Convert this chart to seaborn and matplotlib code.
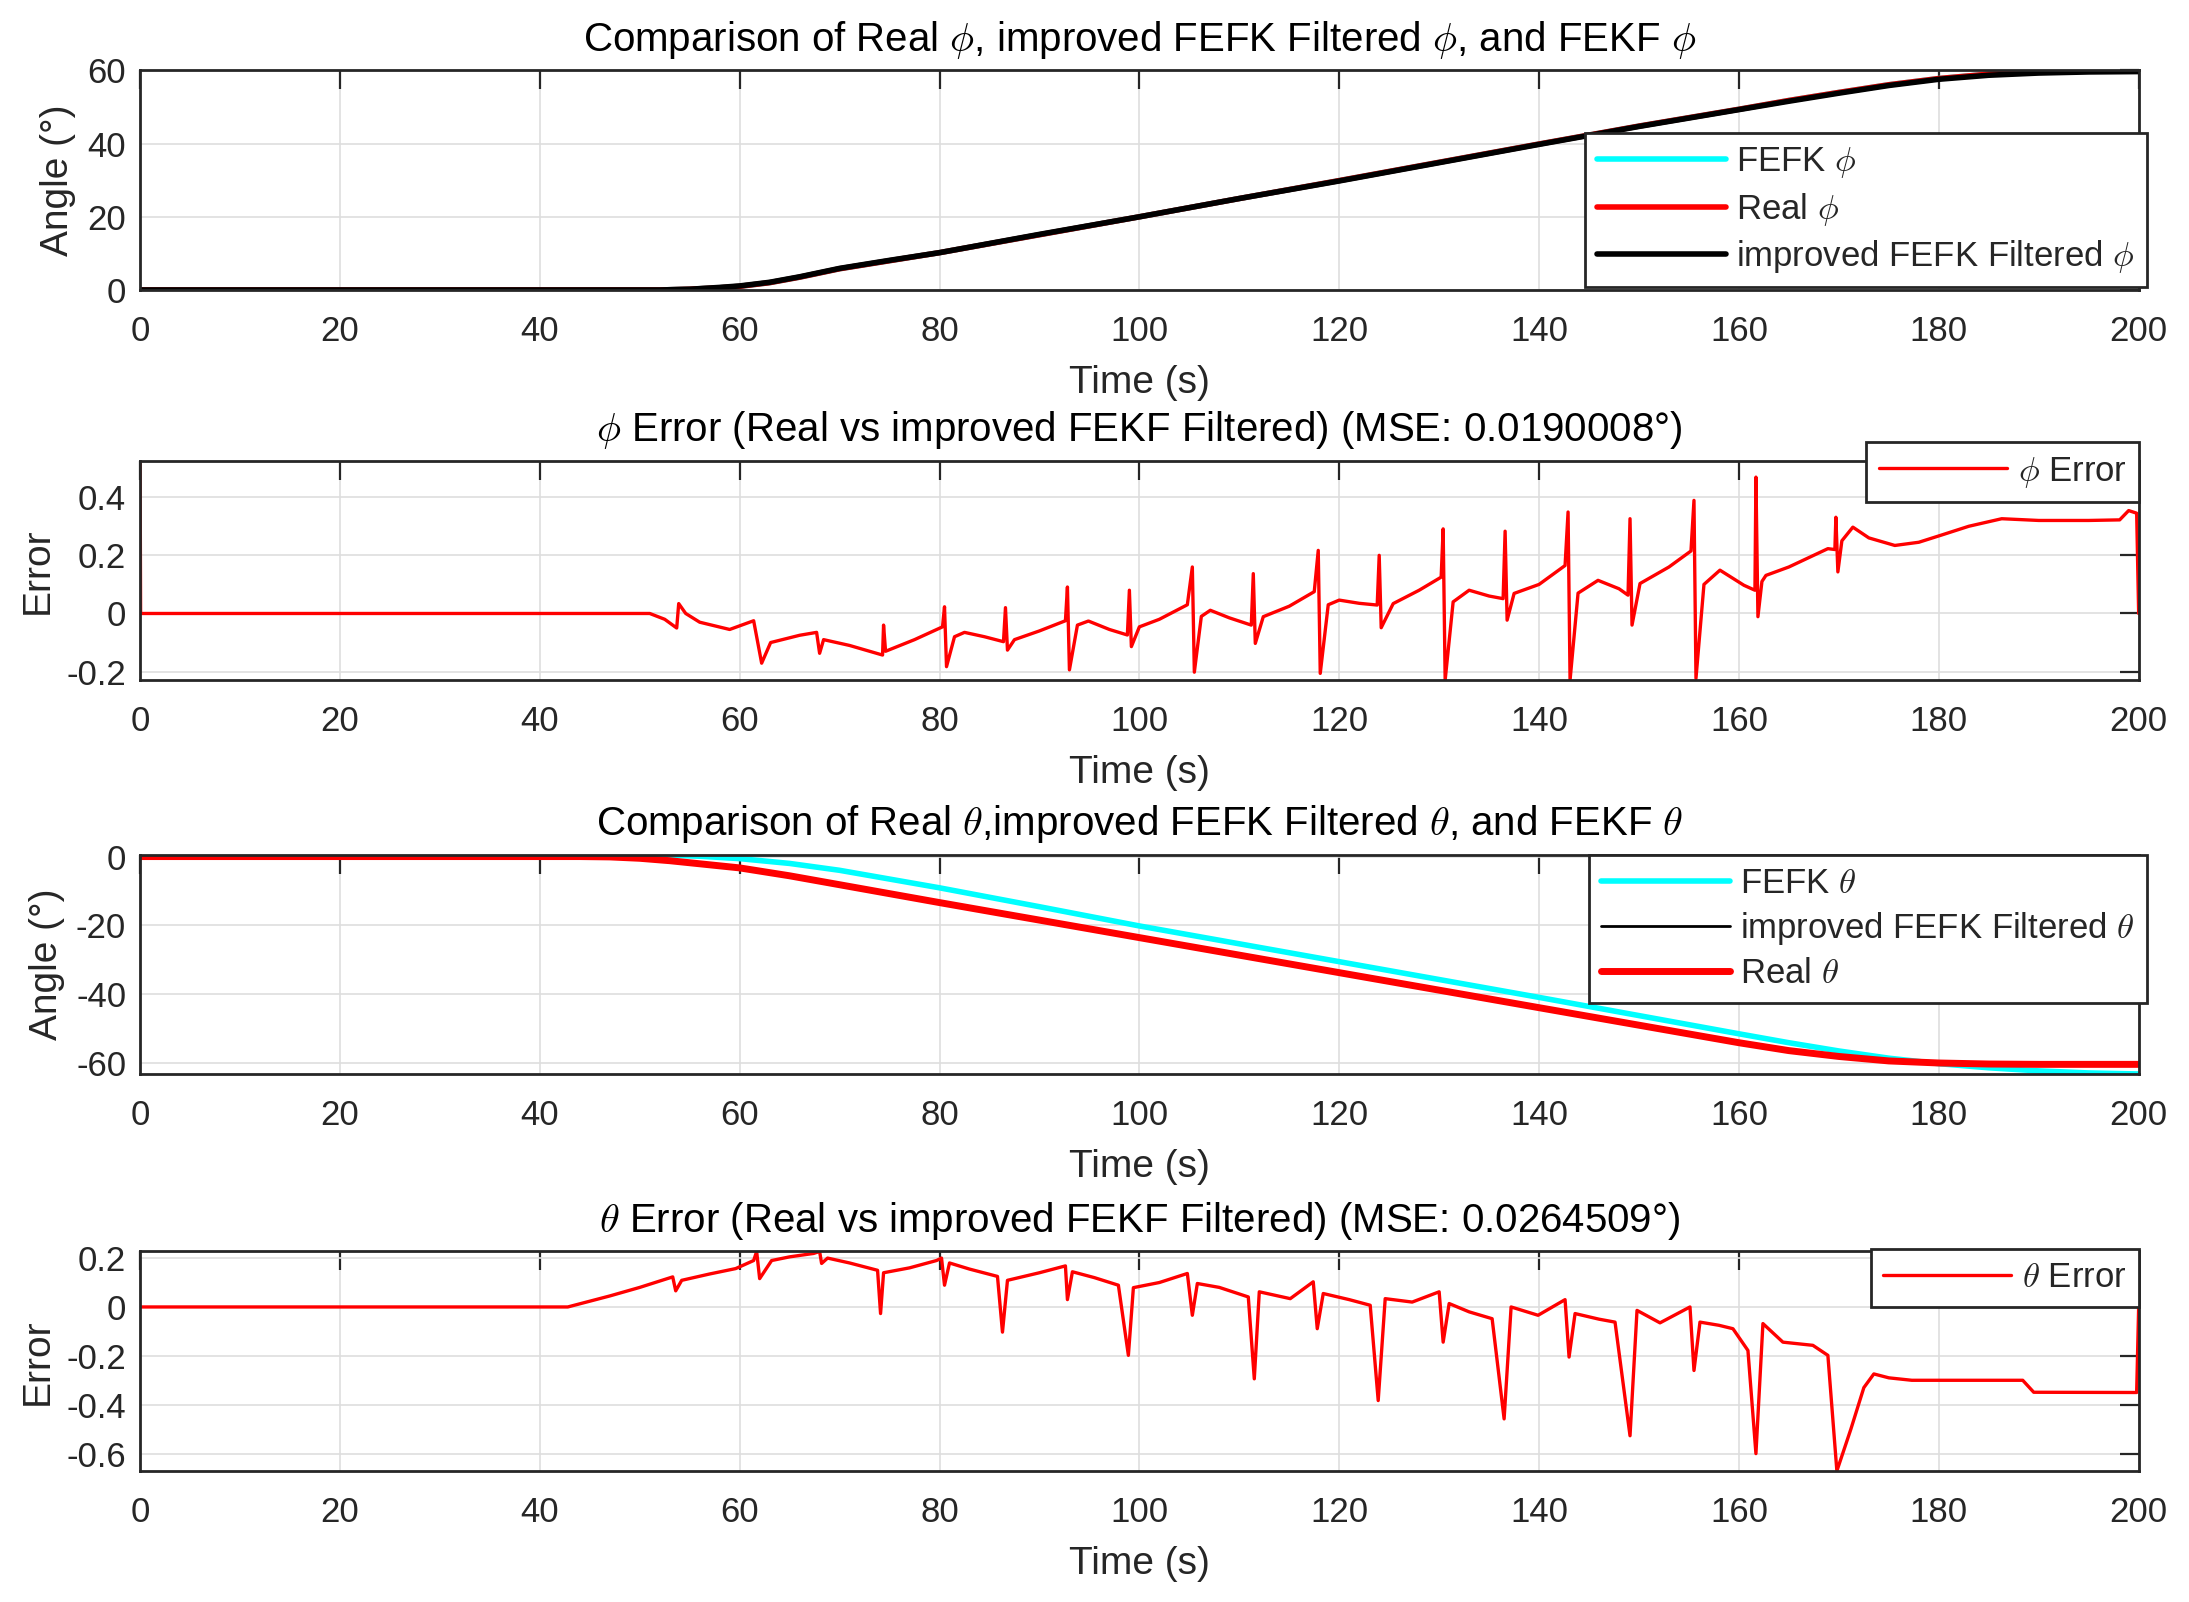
import matplotlib
matplotlib.use('Agg')
import matplotlib.pyplot as plt
import seaborn as sns

# ---- values ----
x_ticks = [0, 20, 40, 60, 80, 100, 120, 140, 160, 180, 200]

# panel 1: roll angle phi
t_phi = [0, 52, 55, 58, 60, 63, 66, 70, 75, 80, 90, 100, 110, 120, 130, 140,
         150, 160, 165, 170, 175, 180, 185, 190, 195, 200]
phi_fefk = [0, 0, 0.2, 0.6, 1.0, 2.0, 3.5, 5.8, 8.0, 10.2, 15.1, 20.0, 25.0, 29.9,
            34.9, 39.9, 44.8, 49.4, 51.8, 54.0, 56.1, 57.8, 59.0, 59.6, 59.9, 60.0]
phi_real = [0, 0, 0.2, 0.6, 1.0, 2.0, 3.5, 5.8, 8.0, 10.2, 15.1, 20.0, 25.0, 29.9,
            34.9, 39.9, 44.8, 49.4, 51.8, 54.0, 56.1, 57.8, 59.0, 59.6, 59.9, 60.0]
phi_improved = [0, 0, 0.2, 0.7, 1.1, 2.1, 3.6, 5.9, 8.1, 10.2, 15.2, 20.0, 25.0, 29.8,
                34.8, 39.8, 44.7, 49.3, 51.6, 53.8, 55.9, 57.6, 58.7, 59.3, 59.6, 59.7]
phi_yticks = [0, 20, 40, 60]

# panel 2: phi error
t_err_phi = [0, 0.05, 51, 52.5, 53.7, 53.9, 54.6, 56, 59, 61.4, 62.2, 63.1, 66, 67.7,
             68.0, 68.4, 71, 74.3, 74.4, 74.6, 77.5, 80.3, 80.5, 80.7, 81.5, 82.5,
             84.5, 86.4, 86.6, 86.8, 87.5, 90, 92.6, 92.8, 93.0, 93.8, 94.9, 97, 98.8,
             99.0, 99.2, 100, 102, 104.8, 105.3, 105.5, 106.2, 107.1, 109, 111.2,
             111.4, 111.6, 112.4, 115, 117.5, 117.9, 118.1, 118.9, 120, 122, 123.8,
             124.0, 124.2, 125.4, 128, 130.2, 130.4, 130.6, 131.4, 133, 135, 136.4,
             136.6, 136.8, 137.5, 140, 142.6, 142.9, 143.1, 143.9, 145.9, 148, 148.9,
             149.1, 149.3, 150.1, 153, 155.2, 155.5, 155.7, 156.5, 158.1, 160.5,
             161.6, 161.7, 161.9, 162.3, 162.7, 165, 168.9, 169.6, 169.7, 169.9,
             170.3, 171.4, 173, 175.6, 178, 180.2, 183, 186.3, 190, 195, 198.1,
             199.0, 199.8, 200]
err_phi = [0.526, 0, 0, -0.02, -0.05, 0.034, 0.0, -0.03, -0.055, -0.025, -0.171,
           -0.10, -0.075, -0.065, -0.137, -0.09, -0.11, -0.143, -0.04, -0.13, -0.09,
           -0.046, 0.023, -0.183, -0.08, -0.065, -0.08, -0.097, 0.02, -0.126, -0.09,
           -0.06, -0.025, 0.091, -0.194, -0.04, -0.026, -0.055, -0.074, 0.08,
           -0.114, -0.046, -0.02, 0.03, 0.16, -0.202, -0.01, 0.011, -0.015, -0.04,
           0.137, -0.103, -0.011, 0.025, 0.075, 0.217, -0.206, 0.03, 0.046, 0.035,
           0.029, 0.2, -0.049, 0.034, 0.08, 0.125, 0.291, -0.229, 0.04, 0.08, 0.06,
           0.051, 0.283, -0.023, 0.069, 0.1, 0.165, 0.349, -0.229, 0.07, 0.114,
           0.085, 0.063, 0.326, -0.04, 0.103, 0.16, 0.215, 0.389, -0.223, 0.10,
           0.149, 0.097, 0.08, 0.469, -0.011, 0.11, 0.131, 0.16, 0.223, 0.22, 0.331,
           0.143, 0.25, 0.297, 0.26, 0.234, 0.245, 0.269, 0.3, 0.326, 0.32, 0.32,
           0.322, 0.354, 0.345, 0.0]
err_phi_yticks = [-0.2, 0, 0.2, 0.4]
err_phi_ylabels = ['-0.2', '0', '0.2', '0.4']

# panel 3: pitch angle theta
t_theta = [0, 44, 47, 50, 53, 56, 60, 65, 70, 80, 90, 100, 110, 120, 130, 140,
           150, 160, 165, 170, 175, 180, 185, 190, 195, 200]
theta_fefk = [0, 0, 0.4, 0.5, 0.4, 0.1, -0.6, -2.0, -4.0, -9.1, -14.6, -20.2, -25.4,
              -30.6, -35.8, -41.0, -46.3, -51.6, -54.2, -56.6, -58.7, -60.3, -61.5,
              -62.4, -63.0, -63.3]
theta_improved = [0, 0, -0.1, -0.5, -1.2, -2.1, -3.3, -5.7, -8.3, -13.5, -18.6,
                  -23.7, -28.8, -33.8, -38.9, -44.0, -49.0, -54.0, -56.3, -58.0,
                  -59.3, -59.8, -60.1, -60.2, -60.2, -60.2]
theta_real = [0, 0, -0.1, -0.5, -1.2, -2.1, -3.3, -5.6, -8.2, -13.4, -18.5, -23.6,
              -28.7, -33.8, -38.9, -44.0, -49.1, -54.2, -56.5, -58.2, -59.5, -60.1,
              -60.4, -60.5, -60.5, -60.5]
theta_yticks = [-60, -40, -20, 0]

# panel 4: theta error
t_err_theta = [0, 42.8, 47, 50, 53.3, 53.6, 54.2, 57, 59.6, 61.4, 61.7, 62.0, 63.2,
               65, 67.4, 68.0, 68.2, 68.8, 71, 73.8, 74.1, 74.4, 77, 79.7, 80.2,
               80.5, 81.0, 83, 85.8, 86.3, 86.8, 90, 92.6, 92.8, 93.3, 95.5, 97.9,
               98.9, 99.4, 102, 104.8, 105.3, 105.8, 108, 110.9, 111.5, 112.0, 115.1,
               117.4, 117.8, 118.4, 121, 123.1, 123.9, 124.6, 127.3, 130.0, 130.4,
               131.0, 133, 135.3, 136.5, 137.2, 139.9, 142.6, 143.0, 143.6, 146,
               147.6, 149.1, 149.8, 152.1, 155.1, 155.5, 156.1, 158, 159.4, 160.9,
               161.7, 162.4, 164.4, 167.4, 168.9, 169.8, 171.2, 172.5, 173.5, 175,
               177.3, 188.4, 189.5, 199.8, 200]
err_theta = [0, 0, 0.045, 0.08, 0.123, 0.066, 0.109, 0.135, 0.157, 0.19, 0.227,
             0.116, 0.19, 0.205, 0.219, 0.227, 0.178, 0.2, 0.18, 0.15, -0.027, 0.14,
             0.16, 0.19, 0.2, 0.089, 0.18, 0.155, 0.125, -0.103, 0.109, 0.14, 0.168,
             0.03, 0.144, 0.12, 0.089, -0.198, 0.079, 0.1, 0.137, -0.034, 0.096,
             0.08, 0.041, -0.294, 0.062, 0.034, 0.103, -0.089, 0.055, 0.03, 0.007,
             -0.383, 0.034, 0.02, 0.062, -0.144, 0.014, -0.02, -0.048, -0.458, 0.0,
             -0.034, 0.03, -0.205, -0.027, -0.05, -0.062, -0.527, -0.014, -0.065,
             0.0, -0.26, -0.062, -0.075, -0.089, -0.178, -0.6, -0.068, -0.144,
             -0.157, -0.198, -0.671, -0.5, -0.33, -0.274, -0.29, -0.3, -0.3, -0.349,
             -0.35, 0.0]
err_theta_yticks = [-0.6, -0.4, -0.2, 0, 0.2]
err_theta_ylabels = ['-0.6', '-0.4', '-0.2', '0', '0.2']

# ---- style ----
sns.set_theme(style='white')
plt.rcParams['font.family'] = ['Liberation Sans', 'DejaVu Sans']
plt.rcParams['mathtext.fontset'] = 'cm'

DARK = '#262626'
fig = plt.figure(figsize=(2189 / 200, 1602 / 200), dpi=200)
left, width, height = 0.064, 0.913, 0.137
bottoms = [0.819, 0.5755, 0.3296, 0.0818]
axes = [fig.add_axes([left, b, width, height]) for b in bottoms]


def matlab_axes(ax, yticks, ylabels, ylabel, title, ylim):
    ax.set_xlim(0, 200)
    ax.set_ylim(*ylim)
    ax.set_xticks(x_ticks)
    ax.set_yticks(yticks)
    ax.set_yticklabels(ylabels)
    ax.grid(True, color='#dedede', lw=0.6)
    ax.set_axisbelow(True)
    ax.tick_params(direction='in', length=7, width=0.8, top=True, right=True,
                   colors=DARK, labelsize=12.5)
    ax.tick_params(axis='x', pad=9)
    ax.tick_params(axis='y', pad=5)
    for s in ax.spines.values():
        s.set_visible(True)
        s.set_color(DARK)
        s.set_linewidth(1.0)
    ax.set_xlabel('Time (s)', fontsize=14, labelpad=6, color=DARK)
    ax.set_ylabel(ylabel, fontsize=14, labelpad=4, color=DARK)
    ax.set_title(title, fontsize=14.5, pad=7, color='black')


def matlab_legend(ax, **kw):
    h, l = ax.get_legend_handles_labels()
    leg = ax.legend(h, l, fancybox=False, framealpha=1, edgecolor=DARK,
                    fontsize=12.5, handlelength=3.7, handletextpad=0.3,
                    labelspacing=0.3, borderpad=0.35, borderaxespad=0, **kw)
    leg.get_frame().set_linewidth(1.0)


# panel 1
ax = axes[0]
sns.lineplot(x=t_phi, y=phi_fefk, ax=ax, color='#00ffff', lw=2.0, label=r'FEFK $\phi$')
sns.lineplot(x=t_phi, y=phi_real, ax=ax, color='#ff0000', lw=2.0, label=r'Real $\phi$')
sns.lineplot(x=t_phi, y=phi_improved, ax=ax, color='black', lw=2.0,
             label=r'improved FEFK Filtered $\phi$')
matlab_axes(ax, phi_yticks, [str(v) for v in phi_yticks], 'Angle (°)',
            r'Comparison of Real $\phi$, improved FEFK Filtered $\phi$, and FEKF $\phi$',
            (0, 60))
matlab_legend(ax, loc='lower right', bbox_to_anchor=(1.004, 0.012))

# panel 2
ax = axes[1]
sns.lineplot(x=t_err_phi, y=err_phi, ax=ax, color='#ff0000', lw=1.2, label=r'$\phi$ Error')
matlab_axes(ax, err_phi_yticks, err_phi_ylabels, 'Error',
            r'$\phi$ Error (Real vs improved FEKF Filtered) (MSE: 0.0190008°)',
            (min(err_phi), max(err_phi)))
matlab_legend(ax, loc='upper right', bbox_to_anchor=(1.0, 1.083))

# panel 3
ax = axes[2]
sns.lineplot(x=t_theta, y=theta_fefk, ax=ax, color='#00ffff', lw=2.0, label=r'FEFK $\theta$')
sns.lineplot(x=t_theta, y=theta_improved, ax=ax, color='black', lw=1.0,
             label=r'improved FEFK Filtered $\theta$')
sns.lineplot(x=t_theta, y=theta_real, ax=ax, color='#ff0000', lw=2.5, label=r'Real $\theta$')
all_theta = theta_fefk + theta_improved + theta_real
matlab_axes(ax, theta_yticks, [str(v) for v in theta_yticks], 'Angle (°)',
            r'Comparison of Real $\theta$,improved FEFK Filtered $\theta$, and FEKF $\theta$',
            (min(all_theta), max(all_theta) + 0.1))
matlab_legend(ax, loc='upper right', bbox_to_anchor=(1.004, 1.0))

# panel 4
ax = axes[3]
sns.lineplot(x=t_err_theta, y=err_theta, ax=ax, color='#ff0000', lw=1.2,
             label=r'$\theta$ Error')
matlab_axes(ax, err_theta_yticks, err_theta_ylabels, 'Error',
            r'$\theta$ Error (Real vs improved FEKF Filtered) (MSE: 0.0264509°)',
            (min(err_theta), max(err_theta)))
matlab_legend(ax, loc='upper right', bbox_to_anchor=(1.0, 1.01))

fig.savefig('out.png', dpi=200, facecolor='white')
